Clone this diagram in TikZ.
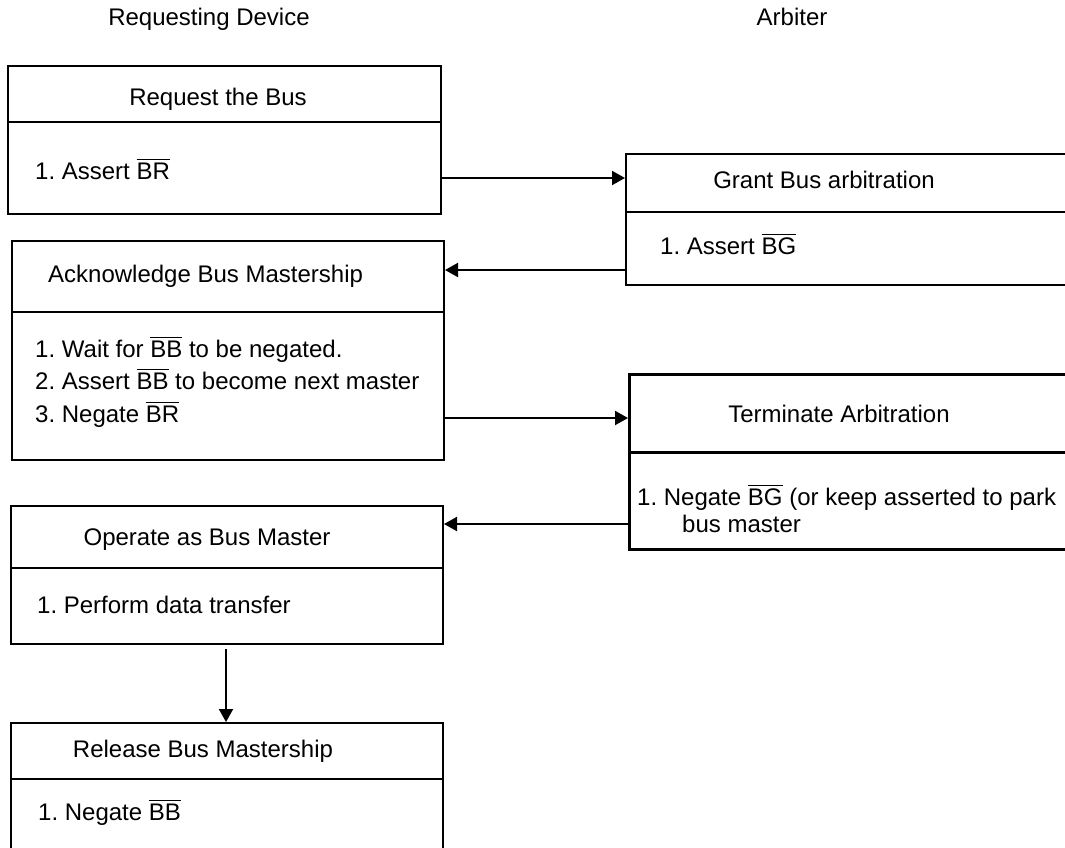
\documentclass[tikz,border=0pt]{standalone}
\usepackage{fontspec}
\setmainfont{Liberation Sans}
\usetikzlibrary{arrows.meta}
\newcommand\ovl[1]{\leavevmode\vbox{\hrule height 1.6pt\kern 2.6pt\hbox{#1}}}
\frenchspacing
\begin{document}
\begin{tikzpicture}[x=1pt,y=-1pt,
  box/.style={draw, line width=2pt, rectangle, anchor=north west, inner sep=0pt},
  txt/.style={inner sep=0pt, font=\fontsize{24}{28}\selectfont},
  arr/.style={line width=2pt, -{Triangle[length=13pt,width=14pt]}}]
\useasboundingbox (0,0) rectangle (1065,847);
\clip (0,0) rectangle (1065,847);

% headers
\node[txt, anchor=base] (hreq) at (209,25.5) {Requesting Device};
\node[txt, anchor=base] (harb) at (792,25.5) {Arbiter};

% boxes
\node[box, minimum width=433pt, minimum height=148pt] (req) at (7,65) {};
\node[box, minimum width=500pt, minimum height=131pt] (grant) at (625,153) {};
\node[box, minimum width=432pt, minimum height=219pt] (ack) at (11,240) {};
\node[box, line width=3pt, minimum width=500pt, minimum height=175pt] (term) at (628,373) {};
\node[box, minimum width=432pt, minimum height=138pt] (oper) at (10,505) {};
\node[box, minimum width=432pt, minimum height=160pt] (rel) at (10,722) {};

% dividers
\draw[line width=2pt] (req.west |- 0,122) -- (req.east |- 0,122);
\draw[line width=2pt] (grant.west |- 0,212) -- (grant.east |- 0,212);
\draw[line width=2pt] (ack.west |- 0,312) -- (ack.east |- 0,312);
\draw[line width=3pt] (term.west |- 0,452) -- (term.east |- 0,452);
\draw[line width=2pt] (oper.west |- 0,568) -- (oper.east |- 0,568);
\draw[line width=2pt] (rel.west |- 0,779) -- (rel.east |- 0,779);

% texts
\node[txt, anchor=base] (reqT) at (218,105.5) {Request the Bus};
\node[txt, anchor=base west] (reqA) at (35,179.5) {1. Assert \ovl{BR}};

\node[txt, anchor=base] (grantT) at (824,188.5) {Grant Bus arbitration};
\node[txt, anchor=base west] (grantA) at (660,254.5) {1. Assert \ovl{BG}};

\node[txt, anchor=base west] (ackT) at (48,282.5) {Acknowledge Bus Mastership};
\node[txt, anchor=base west] (ackA) at (35,357.5) {1. Wait for \ovl{BB} to be negated.};
\node[txt, anchor=base west] (ackB) at (35,389.5) {2. Assert \ovl{BB} to become next master};
\node[txt, anchor=base west] (ackC) at (35,422.5) {3. Negate \ovl{BR}};

\node[txt, anchor=base] (termT) at (839,422) {Terminate Arbitration};
\node[txt, anchor=base west] (termA) at (637,505.5) {1. Negate \ovl{BG} (or keep asserted to park};
\node[txt, anchor=base west] (termB) at (682,532) {bus master};

\node[txt, anchor=base] (operT) at (207,545.5) {Operate as Bus Master};
\node[txt, anchor=base west] (operA) at (37,613.5) {1. Perform data transfer};

\node[txt, anchor=base] (relT) at (203,757.5) {Release Bus Mastership};
\node[txt, anchor=base west] (relA) at (38,820.5) {1. Negate \ovl{BB}};

% connectors
\draw[arr] (req.east |- 0,178) -- (grant.west |- 0,178);
\draw[arr] (grant.west |- 0,270) -- (ack.east |- 0,270);
\draw[arr] (ack.east |- 0,418) -- (term.west |- 0,418);
\draw[arr] (term.west |- 0,524) -- (oper.east |- 0,524);
\draw[arr] (oper.south -| 226,0) ++(0,4) -- (rel.north -| 226,0);
\end{tikzpicture}
\end{document}
